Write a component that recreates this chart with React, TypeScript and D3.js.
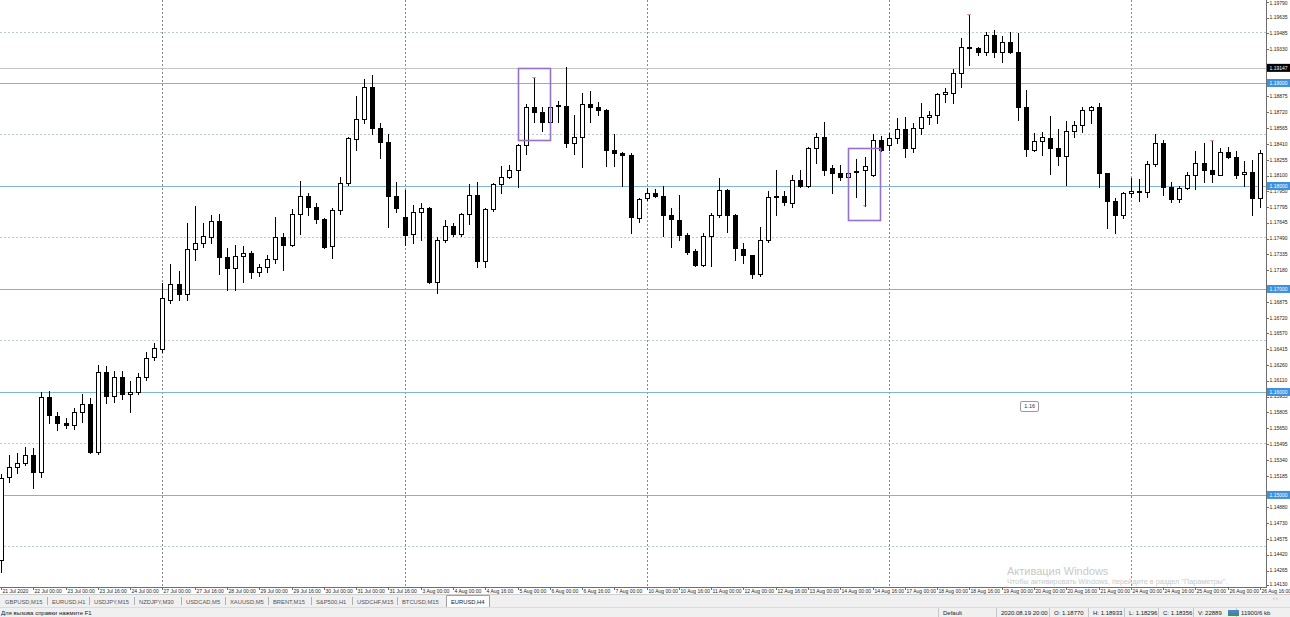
import React from 'react';
import * as d3 from 'd3';

// EURUSD H4 candles (bar 0 = leftmost)
const opens = [
  1.1437, 1.1517, 1.1527, 1.1531, 1.1539, 1.1522, 1.1595, 1.1577, 1.1570, 1.1568,
  1.1581, 1.1588, 1.1542, 1.1619, 1.1596, 1.1615, 1.1598, 1.1600, 1.1615, 1.1634,
  1.1642, 1.1689, 1.1705, 1.1695, 1.1739, 1.1745, 1.1750, 1.1766, 1.1731, 1.1720,
  1.1732, 1.1735, 1.1716, 1.1721, 1.1729, 1.1750, 1.1743, 1.1773, 1.1790, 1.1780,
  1.1768, 1.1742, 1.1777, 1.1803, 1.1846, 1.1865, 1.1896, 1.1856, 1.1843, 1.1790,
  1.1770, 1.1753, 1.1775, 1.1779, 1.1707, 1.1748, 1.1761, 1.1753, 1.1773, 1.1791,
  1.1727, 1.1778, 1.1802, 1.1809, 1.1816, 1.1840, 1.1877, 1.1872, 1.1862, 1.1878,
  1.1878, 1.1842, 1.1848, 1.1880, 1.1877, 1.1874, 1.1835, 1.1832, 1.1830, 1.1769,
  1.1788, 1.1793, 1.1790, 1.1772, 1.1767, 1.1752, 1.1737, 1.1723, 1.1751, 1.1772,
  1.1796, 1.1772, 1.1739, 1.1733, 1.1715, 1.1748, 1.1789, 1.1790, 1.1783, 1.1806,
  1.1800, 1.1837, 1.1848, 1.1817, 1.1813, 1.1809, 1.1814, 1.1816, 1.1811, 1.1845,
  1.1840, 1.1847, 1.1855, 1.1837, 1.1856, 1.1867, 1.1869, 1.1889, 1.1890, 1.1910,
  1.1934, 1.1934, 1.1930, 1.1947, 1.1930, 1.1940, 1.1930, 1.1877, 1.1835, 1.1844,
  1.1847, 1.1837, 1.1829, 1.1853, 1.1859, 1.1874, 1.1877, 1.1813, 1.1785, 1.1772,
  1.1793, 1.1794, 1.1794, 1.1821, 1.1842, 1.1799, 1.1787, 1.1798, 1.1811, 1.1822,
  1.1816, 1.1811, 1.1833, 1.1828, 1.1812, 1.1814, 1.1788,
];
const highs = [
  1.1520, 1.1539, 1.1541, 1.1547, 1.1546, 1.1600, 1.1601, 1.1581, 1.1575, 1.1584,
  1.1598, 1.1594, 1.1626, 1.1625, 1.1620, 1.1620, 1.1611, 1.1618, 1.1639, 1.1648,
  1.1706, 1.1724, 1.1717, 1.1764, 1.1781, 1.1764, 1.1772, 1.1773, 1.1740, 1.1743,
  1.1742, 1.1737, 1.1724, 1.1733, 1.1770, 1.1754, 1.1778, 1.1805, 1.1793, 1.1783,
  1.1769, 1.1779, 1.1809, 1.1848, 1.1887, 1.1904, 1.1908, 1.1861, 1.1850, 1.1804,
  1.1796, 1.1782, 1.1783, 1.1780, 1.1750, 1.1767, 1.1764, 1.1774, 1.1802, 1.1804,
  1.1779, 1.1803, 1.1819, 1.1820, 1.1841, 1.1880, 1.1905, 1.1877, 1.1883, 1.1883,
  1.1916, 1.1869, 1.1890, 1.1892, 1.1882, 1.1875, 1.1850, 1.1833, 1.1832, 1.1788,
  1.1798, 1.1797, 1.1800, 1.1779, 1.1791, 1.1754, 1.1739, 1.1754, 1.1774, 1.1808,
  1.1797, 1.1773, 1.1745, 1.1733, 1.1760, 1.1795, 1.1816, 1.1795, 1.1811, 1.1816,
  1.1838, 1.1851, 1.1862, 1.1820, 1.1820, 1.1814, 1.1826, 1.1828, 1.1850, 1.1849,
  1.1851, 1.1866, 1.1867, 1.1861, 1.1881, 1.1873, 1.1890, 1.1895, 1.1914, 1.1944,
  1.1966, 1.1935, 1.1950, 1.1951, 1.1946, 1.1950, 1.1949, 1.18933, 1.1851, 1.1852,
  1.1868, 1.1855, 1.1863, 1.1863, 1.1877, 1.1878, 1.1881, 1.1813, 1.1788, 1.1794,
  1.1808, 1.1807, 1.1824, 1.1850, 1.1845, 1.1804, 1.1800, 1.1814, 1.1834, 1.1842,
  1.1844, 1.1837, 1.1838, 1.1834, 1.1824, 1.1825, 1.1835,
];
const lows = [
  1.1425, 1.1513, 1.1521, 1.1529, 1.1507, 1.1517, 1.1570, 1.1563, 1.1565, 1.1564,
  1.1571, 1.1541, 1.1540, 1.1589, 1.1590, 1.1593, 1.1581, 1.1598, 1.1612, 1.1631,
  1.1639, 1.1686, 1.1689, 1.1689, 1.1728, 1.1741, 1.1745, 1.1715, 1.1699, 1.1699,
  1.1707, 1.1711, 1.1713, 1.1716, 1.1725, 1.1718, 1.1742, 1.1753, 1.1772, 1.1764,
  1.1740, 1.1730, 1.1773, 1.1801, 1.1835, 1.1861, 1.1850, 1.1827, 1.1760, 1.1775,
  1.1743, 1.1745, 1.1748, 1.1706, 1.1696, 1.1746, 1.1751, 1.1751, 1.1763, 1.1721,
  1.1721, 1.1776, 1.1793, 1.1808, 1.1799, 1.1831, 1.1862, 1.1853, 1.1845, 1.1862,
  1.1838, 1.1831, 1.1818, 1.1862, 1.1869, 1.1819, 1.1819, 1.1800, 1.1754, 1.1765,
  1.1786, 1.1789, 1.1751, 1.1741, 1.1748, 1.1734, 1.1722, 1.1722, 1.1722, 1.1770,
  1.1755, 1.1728, 1.1725, 1.1711, 1.1713, 1.1746, 1.1772, 1.1782, 1.1780, 1.1799,
  1.1799, 1.1822, 1.1811, 1.1793, 1.1806, 1.1808, 1.1789, 1.1781, 1.1810, 1.1834,
  1.1835, 1.1842, 1.1828, 1.1833, 1.1850, 1.1860, 1.1861, 1.1882, 1.1881, 1.1896,
  1.1917, 1.1927, 1.1927, 1.1925, 1.1920, 1.1929, 1.1864, 1.18296, 1.1834, 1.1830,
  1.1812, 1.1820, 1.1801, 1.1848, 1.1852, 1.1861, 1.1799, 1.1759, 1.1754, 1.1769,
  1.1789, 1.1785, 1.1789, 1.1819, 1.1791, 1.1784, 1.1784, 1.1797, 1.1797, 1.1804,
  1.1804, 1.1811, 1.1827, 1.1808, 1.1800, 1.1772, 1.1780,
];
const closes = [
  1.1516, 1.1527, 1.1531, 1.1539, 1.1522, 1.1595, 1.1578, 1.1570, 1.1568, 1.1581,
  1.1588, 1.1542, 1.1619, 1.1596, 1.1615, 1.1598, 1.1600, 1.1615, 1.1633, 1.1643,
  1.1691, 1.1705, 1.1695, 1.1739, 1.1745, 1.1751, 1.1766, 1.1731, 1.1720, 1.1732,
  1.1735, 1.1716, 1.1721, 1.1729, 1.1750, 1.1743, 1.1773, 1.1790, 1.1780, 1.1768,
  1.1741, 1.1777, 1.1803, 1.1847, 1.1865, 1.1896, 1.1856, 1.1843, 1.1790, 1.1779,
  1.1752, 1.1775, 1.1779, 1.1707, 1.1748, 1.1761, 1.1753, 1.1773, 1.1791, 1.1727,
  1.1778, 1.1802, 1.1809, 1.1816, 1.1840, 1.1877, 1.1872, 1.1862, 1.1877, 1.1879,
  1.1842, 1.1848, 1.1880, 1.1877, 1.1874, 1.1835, 1.1832, 1.1830, 1.1770, 1.1787,
  1.1793, 1.1790, 1.1772, 1.1768, 1.1752, 1.1736, 1.1723, 1.1751, 1.1772, 1.1796,
  1.1772, 1.1740, 1.1733, 1.1715, 1.1748, 1.1789, 1.1790, 1.1784, 1.1806, 1.1800,
  1.1837, 1.1848, 1.1816, 1.1813, 1.1809, 1.1813, 1.1815, 1.1819, 1.1845, 1.1835,
  1.1847, 1.1855, 1.1837, 1.1856, 1.1867, 1.1869, 1.1889, 1.1891, 1.1910, 1.1935,
  1.1935, 1.1930, 1.1947, 1.1930, 1.1940, 1.1930, 1.1877, 1.18356, 1.1844, 1.1848,
  1.1837, 1.1829, 1.1853, 1.1859, 1.1874, 1.1877, 1.1813, 1.1785, 1.1772, 1.1793,
  1.1795, 1.1795, 1.1821, 1.1842, 1.1799, 1.1787, 1.1798, 1.1811, 1.1822, 1.1816,
  1.1812, 1.1833, 1.1828, 1.1811, 1.1814, 1.1788, 1.1832,
];

const timeLabels = [
  '21 Jul 2020', '22 Jul 00:00', '23 Jul 00:00', '23 Jul 16:00', '24 Jul 00:00',
  '27 Jul 00:00', '27 Jul 16:00', '28 Jul 00:00', '29 Jul 00:00', '29 Jul 16:00',
  '30 Jul 00:00', '31 Jul 00:00', '31 Jul 16:00', '3 Aug 00:00', '4 Aug 00:00',
  '4 Aug 16:00', '5 Aug 00:00', '6 Aug 00:00', '6 Aug 16:00', '7 Aug 00:00',
  '10 Aug 00:00', '10 Aug 16:00', '11 Aug 00:00', '12 Aug 00:00', '12 Aug 16:00',
  '13 Aug 00:00', '14 Aug 00:00', '14 Aug 16:00', '17 Aug 00:00', '18 Aug 00:00',
  '18 Aug 16:00', '19 Aug 00:00', '20 Aug 00:00', '20 Aug 16:00', '21 Aug 00:00',
  '24 Aug 00:00', '24 Aug 16:00', '25 Aug 00:00', '26 Aug 00:00', '26 Aug 16:00',
];

// visible price-scale labels (the ones under the coloured tags are left out)
const priceTicks = [
  1.19790, 1.19635, 1.19485, 1.19330, 1.18875, 1.18720, 1.18565,
  1.18410, 1.18255, 1.18100, 1.17950, 1.17795, 1.17645, 1.17490, 1.17335, 1.17180,
  1.16875, 1.16720, 1.16570, 1.16415, 1.16260, 1.16110, 1.15955, 1.15805,
  1.15650, 1.15495, 1.15340, 1.15185, 1.14880, 1.14730, 1.14575, 1.14420,
  1.14265, 1.14130,
];

const levels = [1.19, 1.18, 1.17, 1.16, 1.15]; // blue horizontal lines
const gridLevels = [1.195, 1.185, 1.175, 1.165, 1.155, 1.145];
const weekStarts = [20, 50, 80, 110, 140];
const greyLine = 1.19147;

// purple boxes: [bar from, bar to, price top, price bottom]
const boxes = [
  [64, 68, 1.1915, 1.1845],
  [105, 109, 1.1837, 1.1767],
];
// small arrow marks: [bar, price, colour]
const marks: [number, number, string][] = [
  [66, 1.1905, '#d83a3a'],
  [120, 1.1966, '#d83a3a'],
  [150, 1.1844, '#d83a3a'],
  [107, 1.1781, '#2b8c8c'],
];

const tabs = [
  ['GBPUSD,M15', 5], ['EURUSD,H1', 52], ['USDJPY,M15', 94], ['NZDJPY,M30', 139],
  ['USDCAD,M5', 186], ['XAUUSD,M5', 230], ['BRENT,M15', 273], ['S&P500,H1', 316],
  ['USDCHF,M15', 357], ['BTCUSD,M15', 402],
];

const statusItems = [
  ['Default', 943], ['2020.08.19 20:00', 1001], ['O: 1.18770', 1054], ['H: 1.18933', 1093],
  ['L: 1.18296', 1129], ['C: 1.18356', 1163], ['V: 22889', 1198], ['11900/6 kb', 1241],
];

const W = 1290;
const H = 617;
const plotRight = 1266;
const plotBottom = 587;
const font = '"Liberation Sans", Arial, sans-serif';

const App = () => {
  const n = opens.length;
  const x = d3.scaleLinear().domain([0, n - 1]).range([1, 1260]);
  const y = d3.scaleLinear().domain([1.14106, 1.19806]).range([plotBottom, 0]);
  const px = (v: number) => Math.round(v) + 0.5;

  return (
    <div style={{ position: 'absolute', left: 0, top: 0, width: W, height: H, background: '#fff' }}>
      <svg width={W} height={H} style={{ display: 'block', fontFamily: font }}>
        <rect x={0} y={0} width={W} height={H} fill="#ffffff" />

        {/* grid */}
        {gridLevels.map((g) => (
          <line key={'g' + g} x1={0} x2={plotRight} y1={px(y(g))} y2={px(y(g))}
            stroke="#b9cbd1" strokeDasharray="2,2" />
        ))}
        {weekStarts.map((b) => (
          <line key={'w' + b} x1={px(x(b))} x2={px(x(b))} y1={0} y2={plotBottom}
            stroke="#8a8a8a" strokeDasharray="2,2" />
        ))}
        <line x1={0} x2={plotRight} y1={px(y(greyLine))} y2={px(y(greyLine))} stroke="#c4c4c4" />
        {levels.map((l) => (
          <line key={'l' + l} x1={0} x2={plotRight} y1={px(y(l))} y2={px(y(l))} stroke="#7fb6d6" />
        ))}

        {/* candles */}
        {opens.map((o, i) => {
          const c = closes[i];
          const cx = px(x(i));
          const top = Math.round(y(Math.max(o, c)));
          const bot = Math.round(y(Math.min(o, c)));
          const bull = c >= o;
          return (
            <g key={i}>
              <line x1={cx} x2={cx} y1={Math.round(y(highs[i]))} y2={Math.round(y(lows[i])) + 1} stroke="#000" />
              <rect x={cx - 2} y={top + 0.5} width={4} height={Math.max(bot - top, 0)}
                fill={bull ? '#fff' : '#000'} stroke="#000" />
            </g>
          );
        })}

        {/* marks */}
        {marks.map(([b, p, col], k) => (
          <path key={'m' + k} d={`M${px(x(b)) - 2},${Math.round(y(p)) - 1} l1.5,1.5 l1.5,-1.5`}
            fill="none" stroke={col} strokeWidth={1} />
        ))}

        {/* purple boxes */}
        {boxes.map(([b0, b1, p0, p1], k) => (
          <rect key={'b' + k} x={px(x(b0))} y={px(y(p0))} width={Math.round(x(b1) - x(b0))}
            height={Math.round(y(p1) - y(p0))} fill="none" stroke="#9572c9" strokeWidth={1.6} />
        ))}

        {/* small label */}
        <rect x={Math.round(x(127.4)) - 8.5} y={px(y(1.1586)) - 5} width={18} height={10} rx={1.5}
          fill="#fff" stroke="#9a9a9a" />
        <text x={x(127.4) + 0.5} y={y(1.1586) + 2} fontSize={5.5} textAnchor="middle" fill="#333">1.16</text>

        {/* axes */}
        <rect x={plotRight} y={0} width={W - plotRight} height={plotBottom} fill="#fff" />
        <line x1={plotRight + 0.5} x2={plotRight + 0.5} y1={0} y2={plotBottom} stroke="#6e6e6e" />
        <line x1={0} x2={plotRight + 1} y1={plotBottom + 0.5} y2={plotBottom + 0.5} stroke="#6e6e6e" />
        {priceTicks.map((t) => (
          <g key={'t' + t}>
            <line x1={plotRight} x2={plotRight + 3} y1={px(y(t))} y2={px(y(t))} stroke="#6e6e6e" />
            <text x={plotRight + 3.5} y={Math.max(y(t), 3) + 1.8} fontSize={5} fill="#222">{t.toFixed(5)}</text>
          </g>
        ))}
        {levels.map((l) => (
          <g key={'lb' + l}>
            <rect x={plotRight + 1} y={y(l) - 4} width={W - plotRight - 1} height={8} fill="#3f90dd" />
            <text x={plotRight + 3.5} y={y(l) + 1.8} fontSize={5} fill="#fff">{l.toFixed(5)}</text>
          </g>
        ))}
        <rect x={plotRight + 1} y={y(greyLine) - 4} width={W - plotRight - 1} height={8} fill="#000" />
        <text x={plotRight + 3.5} y={y(greyLine) + 1.8} fontSize={5} fill="#fff">{greyLine.toFixed(5)}</text>

        {timeLabels.map((t, k) => {
          const tx = px(x(k * 4));
          return (
            <g key={'x' + k}>
              <line x1={tx} x2={tx} y1={plotBottom} y2={plotBottom + 3} stroke="#6e6e6e" />
              <text x={tx + 1} y={plotBottom + 5.5} fontSize={5} fill="#222">{t}</text>
            </g>
          );
        })}

        {/* windows watermark */}
        <text x={1007} y={575} fontSize={11} fill="#c9c9c9">Активация Windows</text>
        <text x={1007} y={584} fontSize={7.3} fill="#c9c9c9">
          Чтобы активировать Windows, перейдите в раздел "Параметры".
        </text>

        {/* tab strip */}
        <rect x={0} y={594} width={W} height={13} fill="#f0f0f0" />
        <line x1={0} x2={W} y1={594.5} y2={594.5} stroke="#d0d0d0" />
        {tabs.map(([name, tx], k) => (
          <g key={'tab' + k}>
            <text x={tx as number} y={603.5} fontSize={5.8} fill="#555">{name}</text>
            <line x1={(tx as number) - 4.5} x2={(tx as number) - 4.5} y1={597} y2={605}
              stroke={k === 0 ? 'none' : '#b0b0b0'} />
          </g>
        ))}
        <path d="M446.5,607 V595.5 H489.5 V607" fill="#fff" stroke="#a0a0a0" />
        <text x={451} y={603.5} fontSize={5.8} fill="#222">EURUSD,H4</text>
        <text x={1273} y={600} fontSize={5} fill="#999">‹ ›</text>

        {/* status bar */}
        <rect x={0} y={607} width={W} height={10} fill="#f0f0f0" />
        <line x1={0} x2={W} y1={607.5} y2={607.5} stroke="#dcdcdc" />
        <text x={1} y={615} fontSize={6} fill="#222">Для вызова справки нажмите F1</text>
        {statusItems.map(([s, sx], k) => (
          <g key={'s' + k}>
            <line x1={(sx as number) - 4.5} x2={(sx as number) - 4.5} y1={608} y2={617} stroke="#c8c8c8" />
            <text x={sx as number} y={615} fontSize={6} fill="#222">{s}</text>
          </g>
        ))}
        <rect x={1228} y={610} width={11} height={6} fill="#3f8f6a" />
        <rect x={1228} y={610} width={11} height={3} fill="#4a86c6" />
      </svg>
    </div>
  );
};

export default App;
